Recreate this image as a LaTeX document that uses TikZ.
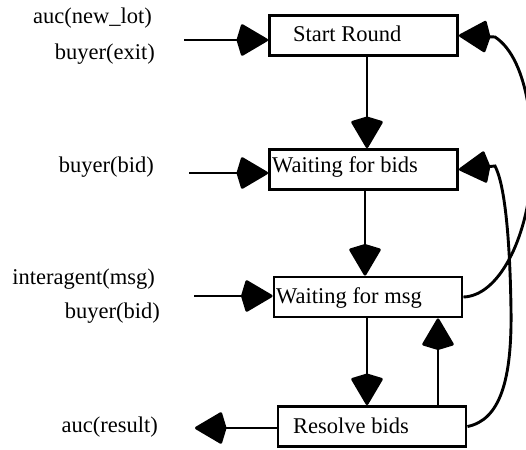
\documentclass[tikz,border=0pt]{standalone}
\usepackage{fontspec}
\setmainfont{Liberation Serif}
\usetikzlibrary{arrows.meta}
\tikzset{
	state/.style={draw, line width=2.9pt, minimum width=188pt, minimum height=40pt, inner sep=0pt},
	txt/.style={font=\fontsize{22.5}{26}\selectfont, inner sep=0pt},
	flow/.style={line width=2.9pt, -{Kite[length=33pt, width=33pt, inset=5pt, round]}}
}

\begin{document}
\begin{tikzpicture}[x=1pt, y=-1pt]
		%%%%% START %%%%%
		\useasboundingbox (0, 0) rectangle (526, 449);
		
		% states
		\node[state] (start) at (363.5, 35.5) {};
		\node[state] (bids) at (363.5, 169.5) {};
		\node[state] (msg) at (368, 297) {};
		\node[state] (resolve) at (372, 426.5) {};
		
		\node[txt, anchor=base west] (startt) at (293, 42) {Start Round};
		\node[txt, anchor=base west] (bidst) at (272, 172) {Waiting for bids};
		\node[txt, anchor=base west] (msgt) at (276, 303) {Waiting for msg};
		\node[txt, anchor=base west] (resolvet) at (293, 433) {Resolve bids};
		
		% events
		\node[txt, anchor=base east] (newlot) at (152, 24) {auc(new\_lot)};
		\node[txt, anchor=base east] (exit) at (155, 60) {buyer(exit)};
		\node[txt, anchor=base east] (bid) at (154, 172) {buyer(bid)};
		\node[txt, anchor=base east] (inter) at (155, 284) {interagent(msg)};
		\node[txt, anchor=base east] (bidb) at (160, 318) {buyer(bid)};
		\node[txt, anchor=base east] (result) at (158, 432) {auc(result)};
		
		\coordinate (in1) at (184, 40);
		\coordinate (in2) at (189, 173);
		\coordinate (in3) at (194, 296);
		\coordinate (out) at (195, 428);
		
		\draw[flow] (in1) -- (start.west |- in1);
		\draw[flow] (in2) -- (bids.west |- in2);
		\draw[flow] (in3) -- (msg.west |- in3);
		\draw[flow] (resolve.west |- out) -- (out);
		
		% transitions
		\draw[flow] ([xshift=3.5]start.south) -- ([xshift=3.5]start.south |- bids.north);
		\draw[flow] ([xshift=1.5]bids.south) -- ([xshift=1.5]bids.south |- msg.north);
		\draw[flow] ([xshift=-1]msg.south) -- ([xshift=-1]msg.south |- resolve.north);
		\draw[flow] ([xshift=66]resolve.north) -- ([xshift=66]resolve.north |- msg.south);
		
		\draw[flow] (resolve.east) .. controls (500, 420) and (512, 380) .. (511, 310)
			.. controls (510, 240) and (505, 185) .. (495, 166) -- (bids.east);
		\draw[flow] (msg.east) .. controls (495, 296) and (522, 250) .. (530, 190)
			.. controls (536, 140) and (530, 60) .. (495, 37) -- (start.east);
		
		%%%%% END %%%%%
	\end{tikzpicture}
\end{document}
